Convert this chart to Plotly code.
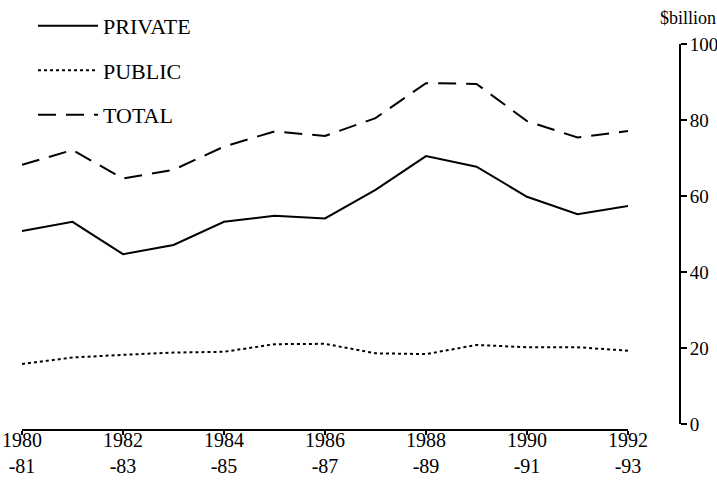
import plotly.graph_objects as go

years = [1980, 1981, 1982, 1983, 1984, 1985, 1986, 1987, 1988, 1989, 1990, 1991, 1992]
private = [50.8, 53.2, 44.7, 47.1, 53.2, 54.8, 54.1, 61.6, 70.5, 67.7, 59.8, 55.2, 57.4]
public = [15.8, 17.5, 18.2, 18.8, 19.0, 21.0, 21.1, 18.6, 18.4, 20.8, 20.2, 20.2, 19.3]
total = [68.2, 72.1, 64.6, 66.9, 73.0, 77.0, 75.8, 80.5, 89.7, 89.5, 79.7, 75.4, 77.1]

tick_vals = [1980, 1982, 1984, 1986, 1988, 1990, 1992]
tick_text = ["1980<br>-81", "1982<br>-83", "1984<br>-85", "1986<br>-87",
             "1988<br>-89", "1990<br>-91", "1992<br>-93"]
y_ticks = [0, 20, 40, 60, 80, 100]

FONT = "Liberation Serif"

fig = go.Figure()
fig.add_trace(go.Scatter(x=years, y=private, mode="lines", name="PRIVATE",
                         legendgroup="a",
                         line=dict(color="black", width=2, dash="solid")))
fig.add_trace(go.Scatter(x=years, y=public, mode="lines", name="PUBLIC",
                         legendgroup="b",
                         line=dict(color="black", width=2, dash="dot")))
fig.add_trace(go.Scatter(x=years, y=total, mode="lines", name="TOTAL",
                         legendgroup="c",
                         line=dict(color="black", width=2, dash="18px,10px")))

L, R, T, B = 22, 37, 44, 54
W, H = 717, 484
pw = W - L - R
ph = H - T - B

fig.update_layout(
    width=W, height=H,
    margin=dict(l=L, r=R, t=T, b=B, autoexpand=False),
    paper_bgcolor="white", plot_bgcolor="white",
    font=dict(family=FONT, size=20, color="black"),
    showlegend=True,
    legend=dict(
        xref="container", yref="container",
        x=0.046, y=0.99, xanchor="left", yanchor="top",
        bgcolor="rgba(0,0,0,0)",
        font=dict(family=FONT, size=22, color="black"),
        tracegroupgap=13, traceorder="grouped",
        itemwidth=60,
    ),
    xaxis=dict(
        domain=[0, 606 / pw],
        range=[1980, 1992],
        tickmode="array", tickvals=tick_vals, ticktext=tick_text,
        showgrid=False, zeroline=False,
        showline=True, linecolor="black", linewidth=2,
        ticks="outside", ticklen=4, tickwidth=1.5, tickcolor="black",
        anchor="free", position=0,
        ticklabelstandoff=-12,
        tickfont=dict(family=FONT, size=20, color="black"),
    ),
    yaxis=dict(
        domain=[6 / ph, 1],
        range=[0, 100],
        side="right", anchor="free", position=1,
        tickmode="array", tickvals=y_ticks,
        showgrid=False, zeroline=False,
        showline=True, linecolor="black", linewidth=2,
        ticks="outside", ticklen=6, tickwidth=2, tickcolor="black",
        ticklabelstandoff=-1,
        tickfont=dict(family=FONT, size=19, color="black"),
    ),
    annotations=[dict(
        text="$billion", xref="paper", yref="paper",
        x=1, y=1, xanchor="left", yanchor="bottom", xshift=-22, yshift=14,
        showarrow=False, font=dict(family=FONT, size=18, color="black"),
    )],
)

fig.write_html(
    "out.html",
    config={"displayModeBar": False},
    post_script="document.body.style.margin='0';document.body.style.padding='0';",
)
